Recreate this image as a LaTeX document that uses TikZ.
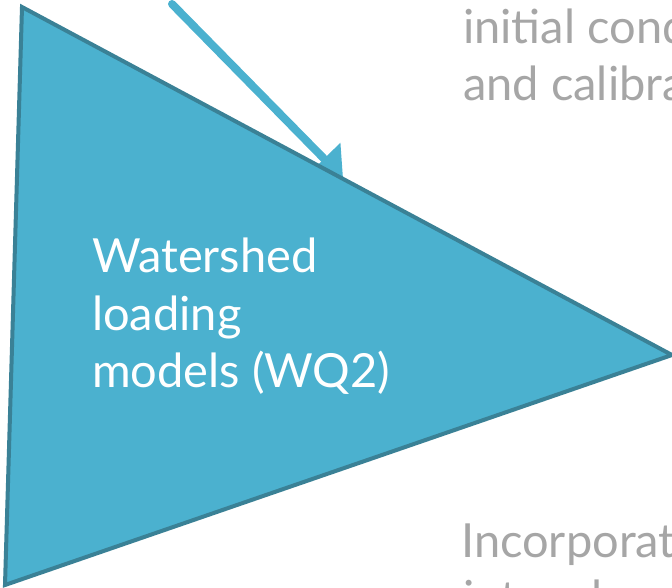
\documentclass[tikz,border=0pt]{standalone}
\usepackage{fontspec}
\setmainfont{Lato}
\usetikzlibrary{arrows.meta}
\definecolor{trifill}{HTML}{4BB1CF}
\definecolor{triedge}{HTML}{3A8196}
\definecolor{graytext}{HTML}{A6A6A6}
\tikzset{
  bigtext/.style={inner sep=0pt, anchor=base west, font=\fontsize{47}{57.5}\selectfont},
  whitetext/.style={bigtext, text=white},
  greytext/.style={bigtext, text=graytext},
  feedarrow/.style={draw=trifill, line width=8pt, line cap=round, -{Triangle[length=27pt,width=44pt]}},
  bigtri/.style={fill=trifill, draw=triedge, line width=4pt, line join=miter}
}
\begin{document}
\begin{tikzpicture}[x=1pt,y=-1pt]
\useasboundingbox (0,0) rectangle (672,587);
\clip (0,0) rectangle (672,587);
\coordinate (tl) at (22,7);
\coordinate (bl) at (5,585);
\coordinate (tip) at (672,355);
\coordinate (arrowstart) at (172,4);
\coordinate (arrowend) at (343,178);
\draw[feedarrow] (arrowstart) -- (arrowend);
\draw[bigtri] (tl) -- (tip) -- (bl) -- cycle;
\node[whitetext] (w1) at (92,272) {Watershed};
\node[whitetext] (w2) at (92,330) {loading};
\node[whitetext] (w3) at (92,387) {models (WQ2)};
\node[greytext] (g1) at (463,43) {initial conditions};
\node[greytext] (g2) at (463,100) {and calibration};
\node[greytext] (g3) at (461,557) {Incorporated};
\node[greytext] (g4) at (463,614) {into a larger};
\end{tikzpicture}
\end{document}
